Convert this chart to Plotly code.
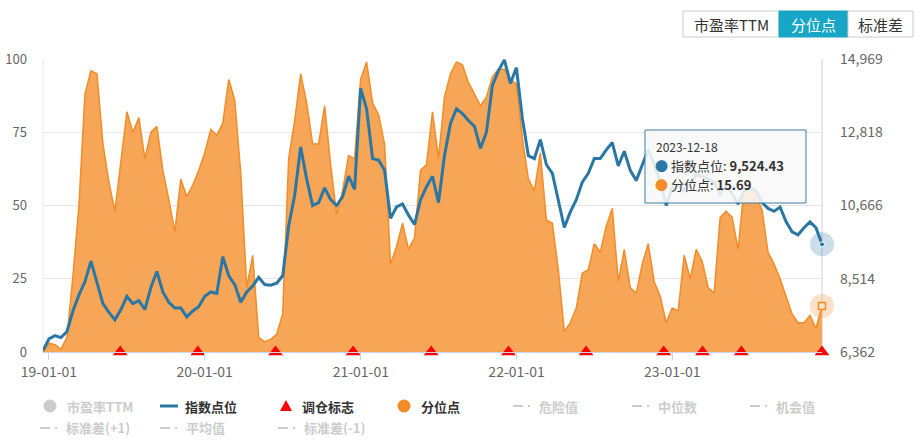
import math
import plotly.graph_objects as go
import pandas as pd

# ---------------- data ----------------
n_points = 131
dates = pd.date_range("2018-12-18", "2023-12-18", periods=n_points)

percentile = [
    0, 3, 2.5, 1, 5, 26, 50, 88, 96, 95,
    71, 58, 48, 66, 82, 75, 80, 66, 75, 77,
    62, 52, 41, 59, 53, 57, 62, 68, 76, 74,
    78, 93, 86, 61, 22, 33, 5, 3.5, 4.3, 6,
    13, 66, 79, 95, 85, 71, 71, 84, 64, 47,
    55, 67, 66, 93, 99, 85, 81, 71, 30, 36,
    44, 35, 39, 62, 64, 82, 66, 87, 95, 99,
    98, 92, 88, 84, 87, 94, 96.5, 96.5, 93, 91.5,
    73, 59, 55, 68, 45, 44, 28, 7, 10, 15,
    27, 28, 37, 34, 43, 49, 24, 35, 22, 20,
    30, 37, 24, 19, 10, 15, 14, 33, 25, 35,
    31, 22, 20, 46, 48, 46, 35, 56, 56, 53.5,
    48.4, 34, 30, 25, 19, 13, 10, 10, 12.5, 8,
    15.69,
]

index_points = [
    6405, 6749, 6844, 6784, 6964, 7567, 8040, 8428, 9030, 8428,
    7782, 7524, 7309, 7610, 7997, 7782, 7868, 7610, 8256, 8729,
    8126, 7825, 7653, 7653, 7395, 7567, 7696, 7997, 8126, 8083,
    9159, 8600, 8342, 7825, 8126, 8299, 8557, 8342, 8324, 8385,
    8600, 10063, 10967, 12387, 11440, 10666, 10752, 11182, 10838, 10666,
    10924, 11526, 11139, 14108, 13506, 12043, 12000, 11699, 10287, 10622,
    10709, 10381, 10106, 10838, 11216, 11526, 10752, 12129, 13075, 13506,
    13368, 13162, 12989, 12344, 12817, 14194, 14625, 14943, 14254, 14711,
    13222, 12129, 12043, 12602, 11870, 11612, 10838, 10020, 10476, 10838,
    11354, 11612, 12043, 12043, 12300, 12516, 11827, 12258, 11699, 11397,
    11853, 12300, 11870, 11354, 10666, 11182, 11268, 11096, 11311, 11569,
    11526, 11440, 11354, 11010, 11268, 11010, 10709, 11096, 11182, 11096,
    10752, 10580, 10493, 10622, 10192, 9891, 9805, 10011, 10183, 10011,
    9524.43,
]

signal_dates = ["2019-06-17", "2019-12-16", "2020-06-15", "2020-12-14", "2021-06-15",
                "2021-12-13", "2022-06-13", "2022-12-12", "2023-03-13", "2023-06-12",
                "2023-12-18"]
signal_values = [0] * len(signal_dates)

pct_ticks = [0, 25, 50, 75, 100]
idx_min, idx_max = 6362, 14969
idx_ticks = [idx_min + k * (idx_max - idx_min) / 4 for k in range(5)]
idx_ticktext = [f"{math.ceil(v):,}" for v in idx_ticks]

buttons = ["市盈率TTM", "分位点", "标准差"]
selected_button = "分位点"

legend_items = [
    # label, kind, colour, active
    ("市盈率TTM", "circle", "#cccccc", False),
    ("指数点位", "line", "#2a77a5", True),
    ("调仓标志", "triangle", "#ff0000", True),
    ("分位点", "circle", "#f28c28", True),
    ("危险值", "dashdot", "#cccccc", False),
    ("中位数", "dashdot", "#cccccc", False),
    ("机会值", "dashdot", "#cccccc", False),
    ("标准差(+1)", "dashdot", "#cccccc", False),
    ("平均值", "dashdot", "#cccccc", False),
    ("标准差(-1)", "dashdot", "#cccccc", False),
]

# ---------------- styling / geometry ----------------
W, H = 922, 442
PL, PR, PT, PB = 43, 822, 59, 352
FONT = "Noto Sans CJK SC, Noto Sans, sans-serif"
BLUE = "#2a77a5"
ORANGE_LINE = "#f28c28"
ORANGE_FILL = "rgba(245,158,72,0.92)"


def fx(X):
    return (X - PL) / (PR - PL)


def fy(Y):
    return (PB - Y) / (PB - PT)


fig = go.Figure()

fig.add_trace(go.Scatter(
    x=dates, y=percentile, mode="lines", name="分位点",
    line=dict(color=ORANGE_LINE, width=1.5), fill="tozeroy", fillcolor=ORANGE_FILL,
    yaxis="y", hoverinfo="skip"))

fig.add_trace(go.Scatter(
    x=signal_dates, y=signal_values, mode="markers", name="调仓标志",
    marker=dict(symbol="triangle-up", size=13, color="#ff0000"),
    cliponaxis=False, yaxis="y", hoverinfo="skip"))

fig.add_trace(go.Scatter(
    x=dates, y=index_points, mode="lines", name="指数点位",
    line=dict(color=BLUE, width=3), yaxis="y2", hoverinfo="skip"))

# hover halo markers at the last point
fig.add_trace(go.Scatter(
    x=[dates[-1]], y=[percentile[-1]], mode="markers", yaxis="y",
    marker=dict(size=24, color="rgba(245,160,75,0.3)"), cliponaxis=False, hoverinfo="skip"))
fig.add_trace(go.Scatter(
    x=[dates[-1]], y=[percentile[-1]], mode="markers", yaxis="y",
    marker=dict(size=7, symbol="square", color="#fbe3c8", line=dict(color=ORANGE_LINE, width=1.5)),
    cliponaxis=False, hoverinfo="skip"))
fig.add_trace(go.Scatter(
    x=[dates[-1]], y=[index_points[-1]], mode="markers", yaxis="y2",
    marker=dict(size=24, color="rgba(42,119,165,0.25)"), cliponaxis=False, hoverinfo="skip"))
fig.add_trace(go.Scatter(
    x=[dates[-1]], y=[index_points[-1]], mode="markers", yaxis="y2",
    marker=dict(size=5, color=BLUE, line=dict(color="white", width=1)),
    cliponaxis=False, hoverinfo="skip"))

shapes = []
annotations = []

# plot borders (left edge + hover crosshair on right)
shapes.append(dict(type="line", xref="paper", yref="paper", x0=0, x1=0, y0=0, y1=1,
                   line=dict(color="#e6e6e6", width=1), layer="below"))
shapes.append(dict(type="line", xref="paper", yref="paper", x0=1, x1=1, y0=0, y1=1,
                   line=dict(color="#d0d0d0", width=1), layer="below"))

# ---- top button group ----
btn_x = [683, 779, 848, 913]
for i, lab in enumerate(buttons):
    sel = lab == selected_button
    shapes.append(dict(type="rect", xref="paper", yref="paper",
                       x0=fx(btn_x[i]), x1=fx(btn_x[i + 1]), y0=fy(37), y1=fy(11),
                       fillcolor="#19a6c6" if sel else "white",
                       line=dict(color="#19a6c6" if sel else "#cccccc", width=1)))
    annotations.append(dict(xref="paper", yref="paper", x=fx((btn_x[i] + btn_x[i + 1]) / 2),
                            y=fy(24), text=lab, showarrow=False, xanchor="center", yanchor="middle",
                            font=dict(family=FONT, size=15, color="white" if sel else "#333333")))

# ---- tooltip ----
tx0, tx1, ty0, ty1 = 645, 806, 130, 203
shapes.append(dict(type="rect", xref="paper", yref="paper", x0=fx(tx0), x1=fx(tx1),
                   y0=fy(ty1), y1=fy(ty0), fillcolor="rgba(248,248,248,0.88)",
                   line=dict(color="#3d7fa3", width=1)))
annotations.append(dict(xref="paper", yref="paper", x=fx(654), y=fy(146),
                        text=dates[-1].strftime("%Y-%m-%d"), showarrow=False,
                        xanchor="left", yanchor="middle",
                        font=dict(family=FONT, size=12, color="#333333")))
tip_rows = [("指数点位", f"{index_points[-1]:,.2f}", BLUE, 165),
            ("分位点", f"{percentile[-1]:.2f}", ORANGE_LINE, 184)]
for lab, val, col, yy in tip_rows:
    annotations.append(dict(xref="paper", yref="paper", x=fx(653), y=fy(yy),
                            text=f"<span style='color:{col}'>●</span> {lab}: <b>{val}</b>",
                            showarrow=False, xanchor="left", yanchor="middle",
                            font=dict(family=FONT, size=13, color="#333333")))

# ---- custom legend ----
legend_pos = [(50, 406), (160, 406), (286, 406), (404, 406), (513, 406), (632, 406),
              (750, 406), (40, 428), (160, 428), (278, 428)]
for (lab, kind, col, active), (lx, ly) in zip(legend_items, legend_pos):
    if kind == "circle":
        shapes.append(dict(type="circle", xref="paper", yref="paper", xsizemode="pixel",
                           ysizemode="pixel", xanchor=fx(lx), yanchor=fy(ly),
                           x0=-6.5, x1=6.5, y0=-6.5, y1=6.5, fillcolor=col, line=dict(width=0)))
        text_x = lx + 15
    elif kind == "triangle":
        shapes.append(dict(type="path", xref="paper", yref="paper", xsizemode="pixel",
                           ysizemode="pixel", xanchor=fx(lx), yanchor=fy(ly),
                           path="M-6,-5 L6,-5 L0,6 Z", fillcolor=col, line=dict(width=0)))
        text_x = lx + 14
    elif kind == "line":
        shapes.append(dict(type="line", xref="paper", yref="paper", x0=fx(lx), x1=fx(lx + 18),
                           y0=fy(ly), y1=fy(ly), line=dict(color=col, width=3)))
        text_x = lx + 23
    else:
        shapes.append(dict(type="line", xref="paper", yref="paper", x0=fx(lx), x1=fx(lx + 10),
                           y0=fy(ly), y1=fy(ly), line=dict(color=col, width=2)))
        shapes.append(dict(type="line", xref="paper", yref="paper", x0=fx(lx + 15), x1=fx(lx + 17),
                           y0=fy(ly), y1=fy(ly), line=dict(color=col, width=2)))
        text_x = lx + 24
    annotations.append(dict(xref="paper", yref="paper", x=fx(text_x), y=fy(ly),
                            text=f"<b>{lab}</b>", showarrow=False, xanchor="left", yanchor="middle",
                            font=dict(family=FONT, size=13, color="#333333" if active else "#cccccc")))

fig.update_layout(
    width=W, height=H,
    margin=dict(l=PL, r=W - PR, t=PT, b=H - PB, pad=0, autoexpand=False),
    paper_bgcolor="white", plot_bgcolor="white",
    showlegend=False,
    font=dict(family=FONT, size=12, color="#666666"),
    xaxis=dict(type="date", range=[dates[0], dates[-1]], tickformat="%y-%m-%d",
               tick0="2019-01-01", dtick="M12", showgrid=False, zeroline=False,
               showline=True, linecolor="#ccd6eb", ticks="outside", ticklen=7,
               tickcolor="#ccd6eb", tickfont=dict(size=14, color="#666666"), automargin=False),
    yaxis=dict(range=[0, 100], tickvals=pct_ticks, showgrid=True, gridcolor="#e6e6e6",
               zeroline=False, tickfont=dict(size=13, color="#666666"), ticklabelstandoff=15,
               automargin=False),
    yaxis2=dict(range=[idx_min, idx_max], tickvals=idx_ticks, ticktext=idx_ticktext,
                overlaying="y", side="right", showgrid=False, zeroline=False,
                tickfont=dict(size=14, color="#666666"), ticklabelstandoff=17, automargin=False),
    shapes=shapes,
    annotations=annotations,
)

fig.write_html("out.html")
